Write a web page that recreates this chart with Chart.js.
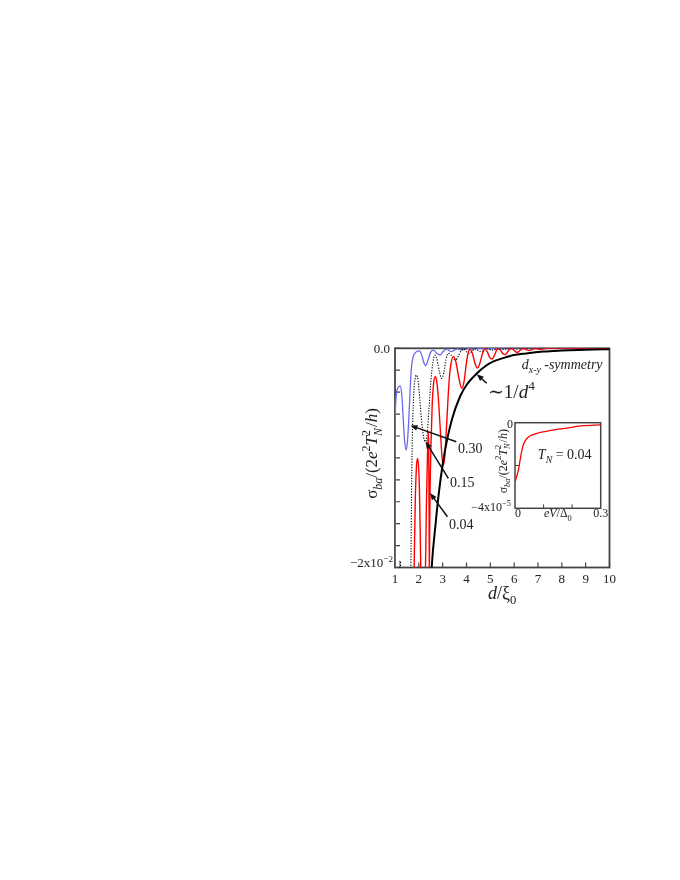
<!DOCTYPE html>
<html><head><meta charset="utf-8">
<script src="https://cdn.jsdelivr.net/npm/chart.js@4.4.1/dist/chart.umd.min.js"></script>
<style>
html,body{margin:0;padding:0;background:#fff;}
#wrap{position:relative;width:680px;height:880px;}
#main{position:absolute;left:0;top:0;}
#inset{position:absolute;left:440px;top:400px;}
</style></head><body>
<div id="wrap"><canvas id="main" width="680" height="880"></canvas><canvas id="inset" width="180" height="130"></canvas></div>
<script>
// ---------- data (sigma in units of 1e-3 for main, 1e-5 for inset) ----------
const xTickValues = [1,2,3,4,5,6,7,8,9,10];
const yTickValues = [0,-2,-4,-6,-8,-10,-12,-14,-16,-18,-20];

const dT030 = [1.0,1.003,1.01,1.03,1.07,1.14,1.22,1.29,1.35,1.41,1.47,1.53,1.6,1.68,1.76,1.88,2.02,2.12,2.2,2.29,2.38,2.5,2.61,2.75,2.89,3.02,3.17,3.28,3.38,3.5,3.65,3.8,3.93,4.1,4.3,4.5,5,6,10];
const sT030 = [-22,-12,-7,-5,-4,-3.55,-3.44,-4.4,-6.6,-8.6,-9.28,-8.3,-5.5,-1.97,-0.8,-0.35,-0.24,-0.6,-1.25,-1.59,-1.1,-0.35,-0.16,-0.45,-0.61,-0.3,-0.06,-0.22,-0.31,-0.14,-0.05,-0.16,-0.1,-0.03,-0.08,-0.03,-0.03,-0.01,0];

const dT015 = [1.18,1.215,1.25,1.3,1.64,1.67,1.70,1.74,1.79,1.84,1.9,1.97,2.04,2.12,2.2,2.28,2.35,2.43,2.51,2.59,2.68,2.77,2.87,2.96,3.05,3.14,3.24,3.34,3.45,3.55,3.66,3.78,3.9,4.02,4.13,4.25,4.38,4.52,4.64,4.76,4.9,5.05,5.18,5.35,5.55,5.75,6.1,6.5,10];
const sT015 = [-21,-19.4,-21,null,-24,-19,-12,-7,-4,-2.8,-2.44,-3,-4.6,-6.7,-8.1,-8.52,-7.8,-5.4,-2.9,-1.3,-0.62,-1.1,-2.2,-2.74,-2.2,-1,-0.46,-0.6,-0.95,-1.06,-0.7,-0.2,-0.1,-0.35,-0.46,-0.22,-0.06,-0.25,-0.3,-0.1,-0.04,-0.18,-0.12,-0.03,-0.1,-0.03,-0.05,-0.01,0];

const dT004 = [1.78,1.81,1.85,1.90,1.95,2.0,2.03,2.06,2.09,2.25,2.28,2.32,2.36,2.40,2.415,2.43,2.44,2.45,2.47,2.51,2.56,2.62,2.68,2.75,2.82,2.9,2.97,3.03,3.09,3.17,3.27,3.35,3.45,3.55,3.67,3.8,3.9,3.98,4.06,4.15,4.25,4.36,4.47,4.57,4.68,4.78,4.88,4.98,5.08,5.18,5.27,5.35,5.45,5.54,5.62,5.72,5.82,5.9,6.0,6.08,6.15,6.25,6.4,6.52,6.65,6.78,6.9,7.0,7.1,7.22,7.4,8,10];
const sT004 = [-24,-19,-14,-10.8,-10.04,-11.2,-13.5,-17,-21,-24,-20,-14,-10,-7.6,-9,-15,-21,-18,-13.2,-8.8,-5.2,-3.2,-2.6,-3.0,-4.6,-7.4,-9.8,-10.66,-9.8,-6.8,-3.0,-1.4,-0.76,-1.2,-2.6,-3.66,-3.0,-1.6,-0.5,-0.1,-0.5,-1.4,-1.8,-1.3,-0.4,-0.06,-0.35,-0.85,-0.98,-0.6,-0.15,-0.04,-0.25,-0.52,-0.58,-0.35,-0.06,-0.03,-0.2,-0.34,-0.36,-0.18,-0.02,-0.14,-0.2,-0.07,-0.02,-0.07,-0.1,-0.04,-0.01,0,0];

const dEnv = [2.50,2.54,2.7,2.84,3.0,3.18,3.4,3.73,4.0,4.43,4.8,5.13,5.5,5.83,6.5,7.23,8.0,9.3,10];
const sEnv = [-22,-20,-16.1,-13.2,-10.6,-8.4,-6.4,-4.4,-3.35,-2.3,-1.62,-1.2,-0.92,-0.7,-0.47,-0.29,-0.2,-0.1,-0.08];

const insetEV = [0,0.006,0.012,0.018,0.023,0.029,0.039,0.053,0.076,0.122,0.181,0.239,0.3];
const insetS  = [-2.76,-2.52,-2.21,-1.74,-1.36,-1.04,-0.78,-0.61,-0.5,-0.37,-0.25,-0.14,-0.1];
const insetXTicks = [0.1,0.2];
const insetYTicks = [-2];

// ---------- helpers ----------
const pts = (xs, ys) => xs.map((x, i) => ({x: x, y: ys[i]}));
const FAM = '"Liberation Serif","DejaVu Serif","Times New Roman",serif';
function rich(ctx, segs, x, y, size, align){
  const r = 0.7, parts = []; let W = 0;
  segs.forEach(s => {
    const small = s.b || s.p || s.ss !== undefined;
    const fs = small ? size*r : size;
    const font = (s.i ? 'italic ' : '') + fs.toFixed(1) + 'px ' + FAM;
    ctx.font = font; const w = ctx.measureText(s.t).width;
    let w2 = 0, font2 = null;
    if (s.ss !== undefined){ font2 = fs.toFixed(1) + 'px ' + FAM; ctx.font = font2; w2 = ctx.measureText(s.ss).width; }
    const adv = Math.max(w, w2) + (s.g || 0);
    parts.push({s, font, font2, adv}); W += adv;
  });
  let cx = align === 'center' ? x - W/2 : align === 'right' ? x - W : x;
  ctx.textAlign = 'left'; ctx.textBaseline = 'alphabetic';
  parts.forEach(p => {
    const s = p.s;
    const dy = (s.b || s.ss !== undefined) ? size*0.28 : s.p ? -size*0.42 : 0;
    ctx.font = p.font; ctx.fillText(s.t, cx, y + dy);
    if (s.ss !== undefined){ ctx.font = p.font2; ctx.fillText(s.ss, cx, y - size*0.42); }
    cx += p.adv;
  });
  return W;
}
function arrow(ctx, x1, y1, x2, y2){
  const a = Math.atan2(y2 - y1, x2 - x1), L = 7, H = 2.8;
  ctx.beginPath(); ctx.moveTo(x1, y1); ctx.lineTo(x2 - L*0.6*Math.cos(a), y2 - L*0.6*Math.sin(a)); ctx.stroke();
  ctx.beginPath();
  ctx.moveTo(x2, y2);
  ctx.lineTo(x2 - L*Math.cos(a) + H*Math.sin(a), y2 - L*Math.sin(a) - H*Math.cos(a));
  ctx.lineTo(x2 - L*Math.cos(a) - H*Math.sin(a), y2 - L*Math.sin(a) + H*Math.cos(a));
  ctx.closePath(); ctx.fill();
}
const sigmaLabel = [{t:'σ'},{t:'ba',i:1,b:1},{t:'/(2'},{t:'e',i:1},{t:'2',p:1},{t:'T',i:1},{t:'N',i:1,ss:'2',g:1},{t:'/'},{t:'h',i:1},{t:')'}];

// ---------- main chart ----------
const mainDecor = {
  id: 'mainDecor',
  beforeDatasetsDraw(chart){
    const {ctx, chartArea: a, scales: {x, y}} = chart;
    ctx.save();
    ctx.strokeStyle = '#444'; ctx.lineWidth = 1.8;
    ctx.strokeRect(a.left, a.top, a.right - a.left, a.bottom - a.top);
    ctx.lineWidth = 1.2; ctx.beginPath();
    yTickValues.forEach(v => { const py = y.getPixelForValue(v); ctx.moveTo(a.left, py); ctx.lineTo(a.left + 5, py); });
    xTickValues.forEach(v => { const px = x.getPixelForValue(v); ctx.moveTo(px, a.bottom); ctx.lineTo(px, a.bottom - 5); });
    ctx.stroke();
    ctx.restore();
  },
  afterDraw(chart){
    const {ctx, chartArea: a, scales: {x, y}} = chart;
    const X = v => x.getPixelForValue(v), Y = v => y.getPixelForValue(v);
    ctx.save();
    ctx.fillStyle = '#222'; ctx.strokeStyle = '#111';
    // y tick labels
    rich(ctx, [{t:'0.0'}], a.left - 5, Y(0) + 4.5, 13, 'right');
    rich(ctx, [{t:'−2x10'},{t:'−2',p:1}], a.left - 2, Y(-20) - 0.5, 13, 'right');
    // axis titles
    rich(ctx, [{t:'d',i:1},{t:'/ξ'},{t:'0',b:1}], X(5.5), 598.5, 18, 'center');
    ctx.save(); ctx.translate(377, Y(-9.6)); ctx.rotate(-Math.PI/2);
    rich(ctx, sigmaLabel, 0, 0, 17, 'center'); ctx.restore();
    // annotations
    rich(ctx, [{t:'d',i:1},{t:'x-y',i:1,b:1},{t:' -symmetry',i:1}], X(6.32), Y(-1.89), 14, 'left');
    rich(ctx, [{t:'∼'},{t:'1/'},{t:'d',i:1},{t:'4',p:1}], X(4.9), Y(-4.53), 19, 'left');
    rich(ctx, [{t:'0.30'}], X(3.64), Y(-9.55), 14, 'left');
    rich(ctx, [{t:'0.15'}], X(3.31), Y(-12.61), 14, 'left');
    rich(ctx, [{t:'0.04'}], X(3.27), Y(-16.49), 14, 'left');
    ctx.lineWidth = 1.5; ctx.fillStyle = '#111';
    arrow(ctx, X(3.57), Y(-8.52), X(1.65), Y(-7.04));
    arrow(ctx, X(3.24), Y(-11.86), X(2.28), Y(-8.5));
    arrow(ctx, X(3.2), Y(-15.37), X(2.47), Y(-13.2));
    arrow(ctx, X(4.85), Y(-3.19), X(4.43), Y(-2.37));
    ctx.restore();
  }
};

new Chart(document.getElementById('main'), {
  type: 'line',
  data: { datasets: [
    { label: '~1/d^4', data: pts(dEnv, sEnv), borderColor: '#000', borderWidth: 2, cubicInterpolationMode: 'monotone' },
    { label: 'T_N = 0.04', data: pts(dT004, sT004), borderColor: '#ff0000', borderWidth: 1.4, cubicInterpolationMode: 'monotone' },
    { label: 'T_N = 0.15', data: pts(dT015, sT015), borderColor: '#000', borderWidth: 1.1, borderDash: [1.2, 1.5], cubicInterpolationMode: 'monotone', spanGaps: false },
    { label: 'T_N = 0.30', data: pts(dT030, sT030), borderColor: 'rgb(105,105,235)', borderWidth: 1.3, cubicInterpolationMode: 'monotone' }
  ]},
  options: {
    responsive: false, animation: false, devicePixelRatio: 1,
    layout: { padding: { left: 395, top: 348.3, right: 70.5, bottom: 287.5 } },
    elements: { point: { radius: 0 }, line: { fill: false } },
    plugins: { legend: { display: false }, tooltip: { enabled: false } },
    scales: {
      x: { type: 'linear', min: 1, max: 10,
        ticks: { stepSize: 1, autoSkip: false, maxRotation: 0, padding: 4, color: '#222', font: { family: FAM, size: 13 } },
        grid: { display: false, drawTicks: false }, border: { display: false },
        afterFit: s => { s.height = 25; } },
      y: { type: 'linear', min: -20, max: 0,
        ticks: { display: false, stepSize: 2 },
        grid: { display: false, drawTicks: false }, border: { display: false },
        afterFit: s => { s.width = 0; } }
    }
  },
  plugins: [mainDecor]
});

// ---------- inset chart ----------
const insetDecor = {
  id: 'insetDecor',
  beforeDatasetsDraw(chart){
    const {ctx, chartArea: a, scales: {x, y}} = chart;
    ctx.save();
    ctx.fillStyle = '#fff'; ctx.fillRect(a.left, a.top, a.right - a.left, a.bottom - a.top);
    ctx.strokeStyle = '#444'; ctx.lineWidth = 1.5;
    ctx.strokeRect(a.left, a.top, a.right - a.left, a.bottom - a.top);
    ctx.lineWidth = 1; ctx.beginPath();
    insetYTicks.forEach(v => { const py = y.getPixelForValue(v); ctx.moveTo(a.left, py); ctx.lineTo(a.left + 4, py); });
    insetXTicks.forEach(v => { const px = x.getPixelForValue(v); ctx.moveTo(px, a.bottom); ctx.lineTo(px, a.bottom - 4); });
    ctx.stroke(); ctx.restore();
  },
  afterDraw(chart){
    const {ctx, chartArea: a, scales: {x, y}} = chart;
    const X = v => x.getPixelForValue(v), Y = v => y.getPixelForValue(v);
    ctx.save(); ctx.fillStyle = '#222';
    rich(ctx, [{t:'0'}], X(0) - 2, Y(0) + 5, 12, 'right');
    rich(ctx, [{t:'−4x10'},{t:'−5',p:1}], X(0) - 4, Y(-4) + 3, 12, 'right');
    rich(ctx, [{t:'0'}], X(0) + 3, Y(-4) + 8.5, 12, 'center');
    rich(ctx, [{t:'0.3'}], X(0.3), Y(-4) + 8.5, 12, 'center');
    rich(ctx, [{t:'e',i:1},{t:'V',i:1},{t:'/Δ'},{t:'0',b:1}], X(0.15), Y(-4) + 9, 12, 'center');
    rich(ctx, [{t:'T',i:1},{t:'N',i:1,b:1},{t:' = 0.04'}], X(0.08), Y(-1.7), 14, 'left');
    ctx.translate(X(0) - 8.5, Y(-1.8)); ctx.rotate(-Math.PI/2);
    rich(ctx, sigmaLabel, 0, 0, 12, 'center');
    ctx.restore();
  }
};

new Chart(document.getElementById('inset'), {
  type: 'line',
  data: { datasets: [
    { label: 'T_N = 0.04', data: pts(insetEV, insetS), borderColor: '#ff0000', borderWidth: 1.3, cubicInterpolationMode: 'monotone' }
  ]},
  options: {
    responsive: false, animation: false, devicePixelRatio: 1,
    layout: { padding: { left: 75, top: 22.7, right: 19.3, bottom: 21.7 } },
    elements: { point: { radius: 0 } },
    plugins: { legend: { display: false }, tooltip: { enabled: false } },
    scales: {
      x: { type: 'linear', min: 0, max: 0.3, display: false },
      y: { type: 'linear', min: -4, max: 0, display: false }
    }
  },
  plugins: [insetDecor]
});
</script>
</body></html>
